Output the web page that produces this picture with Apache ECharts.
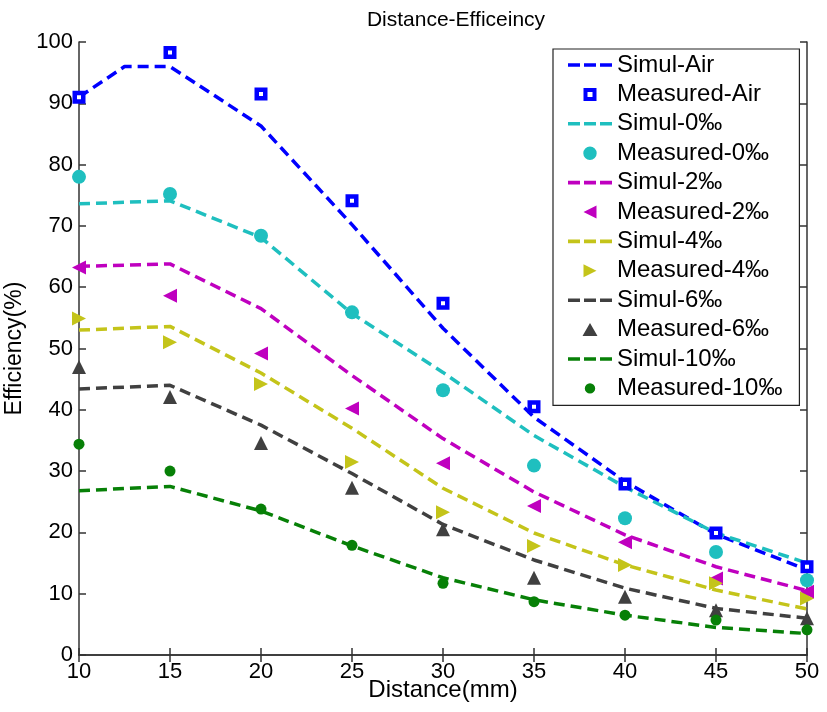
<!DOCTYPE html>
<html>
<head>
<meta charset="utf-8">
<script src="https://cdn.jsdelivr.net/npm/echarts@6/dist/echarts.min.js"></script>
<style>html,body{margin:0;padding:0;background:#fff;}#c{width:827px;height:712px;}</style>
</head>
<body>
<div id="c"></div>
<script>
const distances = [10, 15, 20, 25, 30, 35, 40, 45, 50];
const simulAirX = [10, 12.5, 15, 20, 25, 30, 35, 40, 45, 50];
const simulAir = [91, 96, 96, 86.3, 70.2, 53.3, 38.8, 28.3, 19.7, 13.9];
const measuredAir = [91, 98.3, 91.5, 74.1, 57.4, 40.5, 27.9, 19.9, 14.4];
const simul0 = [73.6, 74.1, 68.1, 55.7, 46.1, 35.8, 27.4, 19.9, 15.0];
const measured0 = [78.0, 75.2, 68.4, 55.9, 43.2, 30.9, 22.3, 16.8, 12.2];
const simul2 = [63.4, 63.8, 56.5, 45.6, 35.3, 26.6, 19.6, 14.4, 10.5];
const measured2 = [63.2, 58.6, 49.2, 40.2, 31.3, 24.3, 18.4, 12.5, 10.3];
const simul4 = [53.0, 53.6, 46.0, 37.0, 27.2, 19.9, 14.7, 10.6, 7.5];
const measured4 = [54.9, 51.0, 44.2, 31.5, 23.3, 17.8, 14.7, 11.7, 9.2];
const simul6 = [43.4, 44.0, 37.5, 29.6, 21.3, 15.5, 10.9, 7.6, 6.0];
const measured6 = [47.0, 42.1, 34.6, 27.3, 20.5, 12.6, 9.5, 7.3, 6.0];
const simul10 = [26.8, 27.5, 23.5, 17.8, 12.6, 9.0, 6.5, 4.5, 3.5];
const measured10 = [34.4, 30.0, 23.8, 17.9, 11.7, 8.7, 6.5, 5.7, 4.1];
const xTicks = [10, 15, 20, 25, 30, 35, 40, 45, 50];
const yTicks = [0, 10, 20, 30, 40, 50, 60, 70, 80, 90, 100];

const FONT = 'Arial, "Liberation Sans", sans-serif';
const pair = (xs, ys) => xs.map((x, i) => [x, ys[i]]);

// marker shapes
const TRI_LEFT = 'path://M0,5L10,0L10,10Z';
const TRI_RIGHT = 'path://M10,5L0,0L0,10Z';
// legend icons (44x14 box, degenerate corner points fix the bounding box)
const BOX = 'M0,0L0,0.01Z M44,14L44,13.99Z ';
const ICON_DASH = 'path://' + BOX + 'M0,5.2h12v3.6h-12Z M16,5.2h12v3.6h-12Z M32,5.2h12v3.6h-12Z';
const ICON_SQUARE = 'path://' + BOX + 'M17.5,2.5h9v9h-9Z';
const ICON_CIRCLE = 'path://' + BOX + 'M22,0.3A6.7,6.7 0 1 1 21.99,0.3Z';
const ICON_CIRCLE_S = 'path://' + BOX + 'M22,1.8A5.2,5.2 0 1 1 21.99,1.8Z';
const ICON_TRI_LEFT = 'path://' + BOX + 'M15.5,7L28.5,0.5L28.5,13.5Z';
const ICON_TRI_RIGHT = 'path://' + BOX + 'M28.5,7L15.5,0.5L15.5,13.5Z';
const ICON_TRI_UP = 'path://' + BOX + 'M22,0.5L29.5,13.5L14.5,13.5Z';

function simul(name, xs, ys, color) {
  return {
    name, type: 'line', data: pair(xs, ys), symbol: 'none', z: 2,
    lineStyle: { color, width: 3.5, type: [11, 6] }, itemStyle: { color },
    animation: false
  };
}
function measured(name, ys, color, symbol, size, extra) {
  return Object.assign({
    name, type: 'scatter', data: pair(distances, ys), symbol, symbolSize: size, z: 3,
    itemStyle: { color, opacity: 1 }, animation: false
  }, extra || {});
}

const chart = echarts.init(document.getElementById('c'));
const axisCommon = {
  axisLine: { show: true, lineStyle: { color: '#333', width: 1.5 } },
  axisTick: { show: true, inside: true, length: 7, lineStyle: { color: '#333', width: 1.5 } },
  splitLine: { show: false }
};
chart.setOption({
  backgroundColor: '#fff',
  animation: false,
  title: {
    text: 'Distance-Efficeincy', left: 451, top: 5, textAlign: 'center',
    textStyle: { fontFamily: FONT, fontSize: 21, fontWeight: 'normal', color: '#000' }
  },
  grid: { left: 79, right: 20, top: 42, bottom: 57, containLabel: false, outerBoundsMode: 'none' },
  legend: {
    orient: 'vertical', left: 553, top: 49,
    padding: [4, 17, 5, 13], itemGap: 5.4, itemWidth: 44, itemHeight: 14,
    borderColor: '#222', borderWidth: 1.2, backgroundColor: '#fff',
    textStyle: { fontFamily: FONT, fontSize: 24, lineHeight: 24, color: '#000' },
    data: [
      { name: 'Simul-Air', icon: ICON_DASH },
      { name: 'Measured-Air', icon: ICON_SQUARE, itemStyle: { borderWidth: 4 } },
      { name: 'Simul-0‰', icon: ICON_DASH },
      { name: 'Measured-0‰', icon: ICON_CIRCLE },
      { name: 'Simul-2‰', icon: ICON_DASH },
      { name: 'Measured-2‰', icon: ICON_TRI_LEFT },
      { name: 'Simul-4‰', icon: ICON_DASH },
      { name: 'Measured-4‰', icon: ICON_TRI_RIGHT },
      { name: 'Simul-6‰', icon: ICON_DASH },
      { name: 'Measured-6‰', icon: ICON_TRI_UP },
      { name: 'Simul-10‰', icon: ICON_DASH },
      { name: 'Measured-10‰', icon: ICON_CIRCLE_S }
    ]
  },
  xAxis: [
    Object.assign({
      type: 'value', min: xTicks[0], max: xTicks[xTicks.length - 1], interval: 5,
      name: 'Distance(mm)', nameLocation: 'middle', nameGap: 23, nameMoveOverlap: false,
      nameTextStyle: { fontFamily: FONT, fontSize: 24, color: '#000' },
      axisLabel: { fontFamily: FONT, fontSize: 22, color: '#000', margin: 6 }
    }, axisCommon),
    Object.assign({
      type: 'value', position: 'top', min: xTicks[0], max: xTicks[xTicks.length - 1], interval: 5,
      axisLabel: { show: false }
    }, axisCommon)
  ],
  yAxis: [
    Object.assign({
      type: 'value', min: yTicks[0], max: yTicks[yTicks.length - 1], interval: 10,
      name: 'Efficiency(%)', nameLocation: 'middle', nameGap: 53, nameMoveOverlap: false,
      nameTextStyle: { fontFamily: FONT, fontSize: 23, color: '#000' },
      axisLabel: { fontFamily: FONT, fontSize: 22, color: '#000', margin: 6 }
    }, axisCommon),
    Object.assign({
      type: 'value', position: 'right', min: yTicks[0], max: yTicks[yTicks.length - 1], interval: 10,
      axisLabel: { show: false }
    }, axisCommon)
  ],
  series: [
    simul('Simul-Air', simulAirX, simulAir, '#0000FF'),
    measured('Measured-Air', measuredAir, '#FFFFFF', 'rect', 8.5,
      { itemStyle: { color: '#FFFFFF', borderColor: '#0000FF', borderWidth: 4.5, opacity: 1 } }),
    simul('Simul-0‰', distances, simul0, '#1FBFBF'),
    measured('Measured-0‰', measured0, '#1FBFBF', 'circle', 14),
    simul('Simul-2‰', distances, simul2, '#BF00BF'),
    measured('Measured-2‰', measured2, '#BF00BF', TRI_LEFT, 14),
    simul('Simul-4‰', distances, simul4, '#C4C41A'),
    measured('Measured-4‰', measured4, '#C4C41A', TRI_RIGHT, 14),
    simul('Simul-6‰', distances, simul6, '#404040'),
    measured('Measured-6‰', measured6, '#404040', 'triangle', 14),
    simul('Simul-10‰', distances, simul10, '#078007'),
    measured('Measured-10‰', measured10, '#078007', 'circle', 11)
  ]
});
</script>
</body>
</html>
